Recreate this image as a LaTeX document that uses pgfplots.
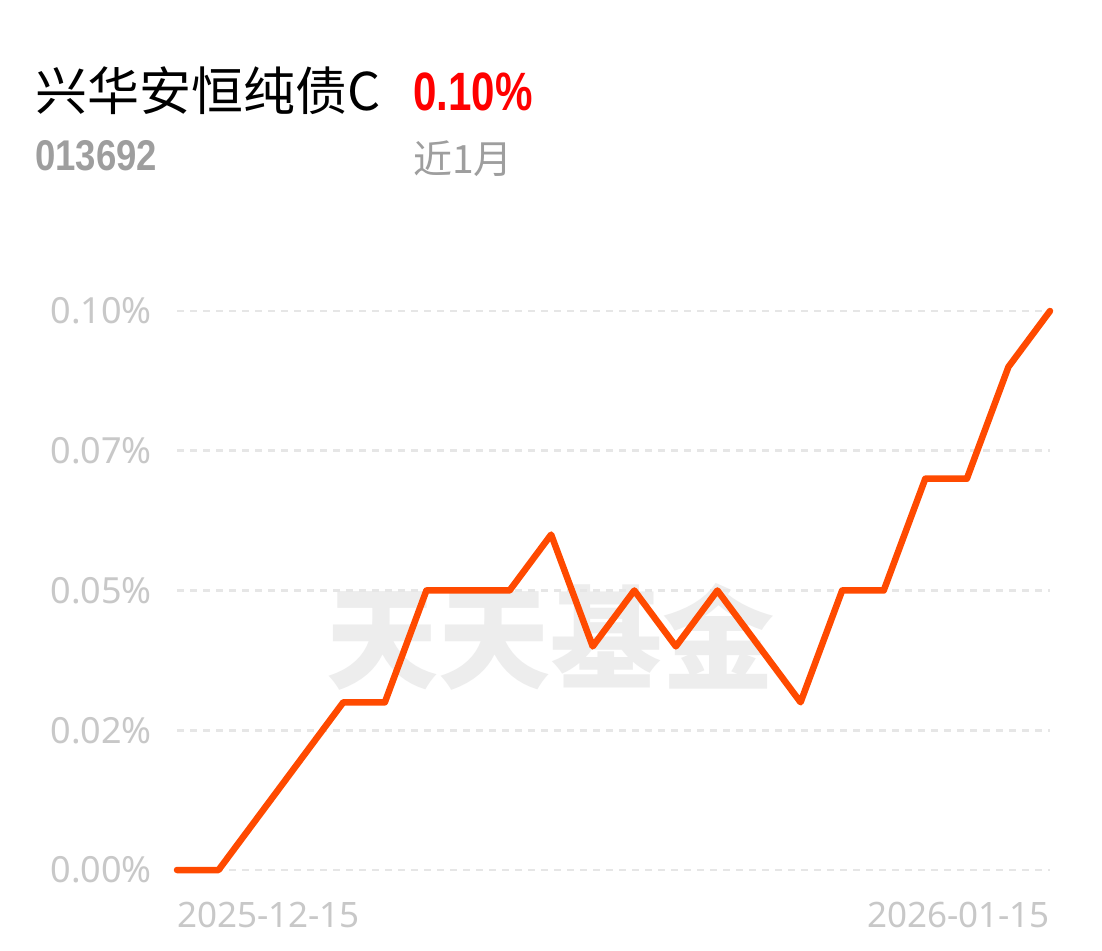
\documentclass[border=0pt]{standalone}
\usepackage{pgfplots}
\pgfplotsset{compat=1.18}
\usepackage{fontspec}
\setmainfont{Noto Sans}
\newfontfamily\cjk{Noto Sans CJK SC}
\newfontfamily\boldnum{Liberation Sans}
\definecolor{lineor}{HTML}{FF4A00}
\definecolor{gridc}{HTML}{E6E6E6}
\definecolor{tickc}{HTML}{C8C8C8}
\definecolor{codec}{HTML}{9E9E9E}
\definecolor{wmc}{HTML}{EDEDED}
\begin{document}
\begin{tikzpicture}[x=1pt,y=1pt]
\path[fill=white] (0,0) rectangle (1102,950);
% watermark
\node[inner sep=0, text=wmc] at (550,313) {\fontsize{112}{112}\selectfont\cjk\bfseries 天天基金};
% header
\node[anchor=base west, inner sep=0] at (35,839) {\fontsize{52}{52}\selectfont\cjk 兴华安恒纯债C};
\node[anchor=base west, inner sep=0, text=red] at (413,839) {\scalebox{0.78}[1]{\fontsize{54}{54}\selectfont\boldnum\bfseries 0.10\%}};
\node[anchor=base west, inner sep=0, text=codec] at (35,779) {\scalebox{0.85}[1]{\fontsize{43}{43}\selectfont\boldnum\bfseries 013692}};
\node[anchor=base west, inner sep=0, text=codec] at (413,776) {\fontsize{39}{39}\selectfont\cjk 近1月};
\begin{axis}[
  at={(177pt,80pt)}, anchor=south west,
  scale only axis, width=873pt, height=559pt,
  xmin=0, xmax=21, ymin=0, ymax=0.1,
  clip=false,
  axis line style={draw=none},
  major tick length=0pt,
  xtick=\empty,
  ytick={0,0.025,0.05,0.075,0.1},
  yticklabels={0.00\%,0.02\%,0.05\%,0.07\%,0.10\%},
  yticklabel style={inner sep=0pt, xshift=-25pt, text=tickc, font=\fontsize{36}{36}\selectfont},
  ymajorgrids,
  grid style={gridc, line width=2.8pt, dash pattern=on 6.5pt off 6.5pt},
]
\addplot[lineor, line width=6.5pt, line join=round, line cap=round] coordinates {
(0,0) (1,0) (2,0.01) (3,0.02) (4,0.03) (5,0.03) (6,0.05) (7,0.05) (8,0.05) (9,0.06)
(10,0.04) (11,0.05) (12,0.04) (13,0.05) (14,0.04) (15,0.03) (16,0.05) (17,0.05)
(18,0.07) (19,0.07) (20,0.09) (21,0.10)
};
\node[anchor=base west, inner sep=0, text=tickc] at (axis cs:0,0) [yshift=-57pt] {\fontsize{35}{35}\selectfont 2025-12-15};
\node[anchor=base east, inner sep=0, text=tickc] at (axis cs:21,0) [yshift=-57pt] {\fontsize{35}{35}\selectfont 2026-01-15};
\end{axis}
\end{tikzpicture}
\end{document}
